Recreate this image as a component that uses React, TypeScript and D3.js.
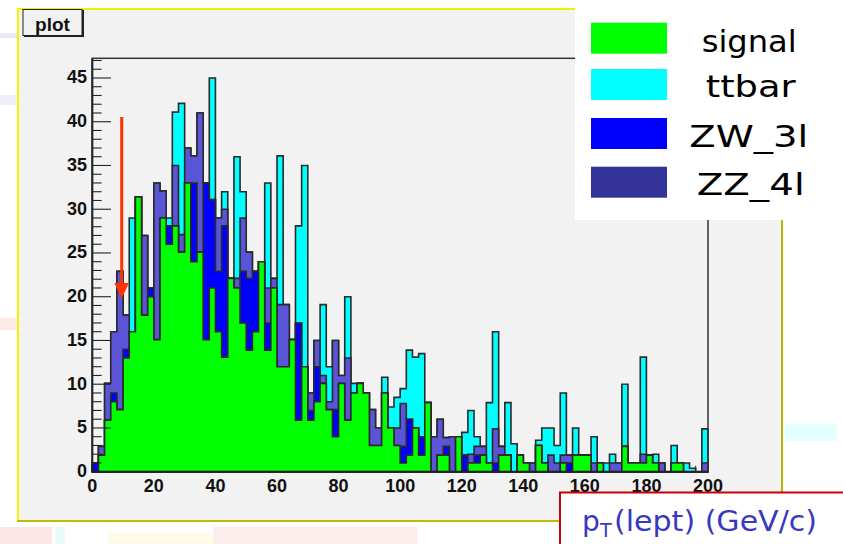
import React from "react";
import * as d3 from "d3";

// ---- data (100 bins of 2 GeV, 0..200) ----
const binEdgesMin = 0;
const binEdgesMax = 200;
const signal = [
  0, 1.9, 5.9, 8.0, 7.1, 13.0, 16.0, 31.4, 17.9, 20.0,
  15.1, 29.0, 26.0, 28.1, 25.1, 33.0, 24.0, 25.1, 15.1, 21.0,
  16.0, 13.1, 22.1, 21.0, 17.0, 13.9, 16.0, 24.0, 13.9, 21.0,
  12.0, 12.0, 15.1, 5.9, 12.0, 5.9, 8.0, 10.1, 7.1, 4.0,
  10.1, 5.9, 9.0, 10.1, 9.0, 3.0, 3.0, 9.0, 5.0, 3.0,
  1.0, 1.9, 5.0, 1.9, 7.9, 0, 1.9, 1.9, 0, 4.0,
  0, 1.0, 1.0, 1.9, 1.0, 0, 1.9, 1.9, 0, 1.9,
  1.0, 0, 3.0, 1.0, 0, 0, 1.0, 0, 1.9, 1.9,
  1.9, 0, 1.0, 0, 0, 0, 2.9, 1.0, 1.0, 1.0,
  1.9, 1.0, 0, 0, 1.0, 1.0, 0, 0, 0, 0,
];
const zw3l = [
  1.0, 0, 0, 1.0, 0, 1.0, 0, 0, 0, 1.0,
  0, 0, 2.1, 0, 0, 0, 9.0, 0, 17.9, 10.1,
  6.9, 15.0, 0, 0, 5.9, 8.2, 6.9, 0, 3.1, 0,
  0, 0, 0, 11.1, 0, 1.1, 4.0, 0, 0, 3.1,
  0, 0, 0, 0, 0, 0, 0, 0, 0, 0,
  1.9, 4.1, 0, 2.1, 0, 0, 0, 1.0, 0, 0,
  1.9, 0, 0.9, 0, 0, 1.0, 0, 0, 0, 0,
  0, 0, 0, 0, 0, 0, 0, 1.0, 0, 0,
  0, 0, 0, 0, 0, 0, 0, 0, 0, 0,
  0, 0, 0, 0, 0, 0, 0, 0, 0, 0,
];
const zz4l = [
  0, 1.0, 4.2, 7.0, 15.8, 3.9, 0, 0, 9.1, 0,
  17.9, 3.1, 0, 6.9, 2.0, 4.0, 3.1, 15.9, 0, 0,
  6.1, 1.9, 0, 1.1, 6.1, 3.0, 0, 0, 4.0, 1.1,
  7.1, 7.1, 0, 0, 0, 2.0, 3.0, 0.9, 0.9, 7.9,
  0.9, 7.1, 0, 0, 0, 4.1, 2.0, 0, 0, 2.0,
  4.9, 0, 0, 0, 0, 4.0, 4.1, 1.0, 4.0, 0,
  0, 1.0, 1.0, 1.0, 0, 3.9, 1.0, 0, 0, 0,
  0, 1.0, 0, 0, 1.9, 1.0, 0.9, 0.9, 0, 0,
  0, 1.0, 0, 0, 1.0, 1.0, 0, 0, 0, 1.0,
  0, 0, 1.0, 0, 0, 0, 0, 0, 0, 1.0,
];
const ttbar = [
  0, 0, 0, 0, 0, 0, 13.0, 0, 0, 0,
  0, 0, 0.9, 6.1, 15.0, 0, 0, 0, 0, 13.9,
  0, 2.0, 0, 13.9, 3.0, 0, 0, 0, 12.0, 0,
  17.0, 0, 0, 11.1, 23.0, 0, 0, 8.1, 4.0, 0,
  0, 7.0, 1.1, 0, 0, 0, 0, 1.8, 2.4, 3.5,
  1.7, 7.9, 8.1, 9.5, 0, 0, 0, 0, 0, 0,
  2.6, 5.0, 1.1, 0, 6.9, 11.1, 0, 6.0, 3.2, 0,
  0, 0, 0.6, 4.0, 3.1, 2.0, 7.1, 0, 3.1, 0,
  0, 3.0, 0, 1.0, 1.0, 0, 7.1, 0, 0, 11.1,
  0, 1.0, 0, 0, 2.0, 0, 1.0, 0.4, 0, 3.9,
];
const xTicks = [0, 20, 40, 60, 80, 100, 120, 140, 160, 180, 200];
const yTicks = [0, 5, 10, 15, 20, 25, 30, 35, 40, 45];
const legendLabels = ["signal", "ttbar", "ZW_3l", "ZZ_4l"];
const legendColors = ["#00ff00", "#00ffff", "#0000ff", "#333399"];
const yMax = 47.25;

export default function App() {
  const x = d3.scaleLinear().domain([binEdgesMin, binEdgesMax]).range([92.3, 708]);
  const y = d3.scaleLinear().domain([0, yMax]).range([471.7, 58.3]);
  const nb = signal.length;
  const bw = (binEdgesMax - binEdgesMin) / nb;

  const c1 = signal.slice();
  const c2 = c1.map((v, i) => v + zw3l[i]);
  const c3 = c2.map((v, i) => v + zz4l[i]);
  const c4 = c3.map((v, i) => v + ttbar[i]);

  const stepPath = (vals: number[]) => {
    const p = d3.path();
    p.moveTo(x(binEdgesMin), y(0));
    vals.forEach((v, i) => {
      const lo = binEdgesMin + i * bw;
      p.lineTo(x(lo), y(v));
      p.lineTo(x(lo + bw), y(v));
    });
    p.lineTo(x(binEdgesMax), y(0));
    p.closePath();
    return p.toString();
  };

  const layers = [
    { vals: c4, color: "#00ffff" },
    { vals: c3, color: "#5a55d6" },
    { vals: c2, color: "#0000ff" },
    { vals: c1, color: "#00ff00" },
  ];

  const minorY = d3.range(0, 48, 1);
  const minorX = d3.range(0, 201, 4);
  const font = "'Liberation Sans', Arial, Helvetica, sans-serif";
  const comic = "'Comic Sans MS', 'DejaVu Sans', sans-serif";
  const legTops = [22.7, 69, 118, 166.7];
  const legBases = [51.7, 97.3, 146.7, 195];
  const legLeft = [701.7, 705.7, 689.3, 696.7];
  const legWidth = [95, 90, 119, 108];

  return (
    <svg
      width={843}
      height={544}
      style={{ position: "absolute", left: 0, top: 0, background: "#ffffff" }}
    >
      {/* faint slide background bits */}
      <rect x={0} y={33} width={17} height={5} fill="#e8e8f7" />
      <rect x={0} y={95} width={17} height={10} fill="#efeef9" />
      <rect x={0} y={318} width={17} height={12} fill="#fdebe3" />
      <rect x={0} y={527} width={52} height={17} fill="#fde6e6" />
      <rect x={55} y={527} width={10} height={17} fill="#e8fafa" />
      <rect x={108} y={532} width={105} height={12} fill="#fffbe8" />
      <rect x={213} y={527} width={205} height={17} fill="#fdeded" />
      <rect x={785} y={424} width={52} height={17} fill="#e3ffff" />

      {/* canvas */}
      <rect x={17} y={8} width={766} height={514} fill="#f2f2f2" />
      <line x1={17} y1={9} x2={783} y2={9} stroke="#f0f000" strokeWidth={2} />
      <line x1={18} y1={8} x2={18} y2={522} stroke="#f5f500" strokeWidth={2} />
      <line x1={17} y1={521} x2={784} y2={521} stroke="#c2bb00" strokeWidth={2} />
      <line x1={782} y1={8} x2={782} y2={522} stroke="#b8b400" strokeWidth={2} />

      {/* title box */}
      <rect x={23} y={9.5} width={59} height={26} fill="#f2f2f2" stroke="#222" strokeWidth={1} />
      <line x1={24} y1={36} x2={83} y2={36} stroke="#222" strokeWidth={2} />
      <line x1={83} y1={10} x2={83} y2={37} stroke="#222" strokeWidth={2} />
      <text x={52.5} y={30.5} textAnchor="middle" fontFamily={font} fontWeight="bold" fontSize={19} fill="#111">
        plot
      </text>

      {/* x ticks (under histograms) */}
      {minorX.map((t) => (
        <line
          key={"xt" + t}
          x1={x(t)}
          x2={x(t)}
          y1={y(0)}
          y2={y(0) - (t % 20 === 0 ? 12 : 6)}
          stroke="#222"
          strokeWidth={1}
        />
      ))}

      {/* stacked histograms */}
      {layers.map((l, i) => (
        <path
          key={"h" + i}
          d={stepPath(l.vals)}
          fill={l.color}
          stroke="#2a2a2a"
          strokeWidth={1.6}
          strokeLinejoin="miter"
        />
      ))}

      {/* y ticks */}
      {minorY.map((t) => (
        <line
          key={"yt" + t}
          x1={x(0)}
          x2={x(0) + (t % 5 === 0 ? 18.7 : 9.3)}
          y1={y(t)}
          y2={y(t)}
          stroke="#222"
          strokeWidth={1.1}
        />
      ))}

      {/* frame */}
      <rect
        x={x(0)}
        y={y(yMax)}
        width={x(200) - x(0)}
        height={y(0) - y(yMax)}
        fill="none"
        stroke="#333"
        strokeWidth={1.5}
      />
      <line x1={x(0)} x2={x(200)} y1={y(0)} y2={y(0)} stroke="#222" strokeWidth={2} />
      <line x1={x(0)} x2={x(0)} y1={y(0)} y2={y(yMax)} stroke="#222" strokeWidth={2} />

      {/* y labels */}
      {yTicks.map((t) => (
        <text
          key={"yl" + t}
          x={87}
          y={y(t) + 5.5}
          textAnchor="end"
          fontFamily={font}
          fontWeight="bold"
          fontSize={18}
          fill="#111"
        >
          {t}
        </text>
      ))}
      {/* x labels */}
      {xTicks.map((t) => (
        <text
          key={"xl" + t}
          x={x(t)}
          y={491.5}
          textAnchor="middle"
          fontFamily={font}
          fontWeight="bold"
          fontSize={18}
          fill="#111"
        >
          {t}
        </text>
      ))}

      {/* red arrow */}
      <line x1={121.7} x2={121.7} y1={117} y2={286} stroke="#ff3300" strokeWidth={3} />
      <polygon points="114.3,283 129,283 121.7,298.5" fill="#ff3300" />

      {/* legend */}
      <rect x={575} y={0} width={268} height={220} fill="#ffffff" />
      {legendLabels.map((lab, i) => (
        <g key={"lg" + i}>
          <rect x={591} y={legTops[i]} width={76} height={31} fill={legendColors[i]} />
          <text
            x={legLeft[i]}
            y={legBases[i]}
            textLength={legWidth[i]}
            lengthAdjust="spacingAndGlyphs"
            fontFamily={comic}
            fontSize={31}
            fill="#000"
          >
            {lab}
          </text>
        </g>
      ))}

      {/* axis title box */}
      <rect x={560} y={492.5} width={300} height={60} fill="#ffffff" stroke="#cc0000" strokeWidth={2} />
      <text x={582} y={531} fontFamily={comic} fontSize={28} fill="#3838c0">
        p
      </text>
      <text x={600} y={537} fontFamily={comic} fontSize={19} fill="#3838c0">
        T
      </text>
      <text
        x={614}
        y={531}
        textLength={203}
        lengthAdjust="spacingAndGlyphs"
        fontFamily={comic}
        fontSize={28}
        fill="#3838c0"
      >
        (lept) (GeV/c)
      </text>
    </svg>
  );
}
